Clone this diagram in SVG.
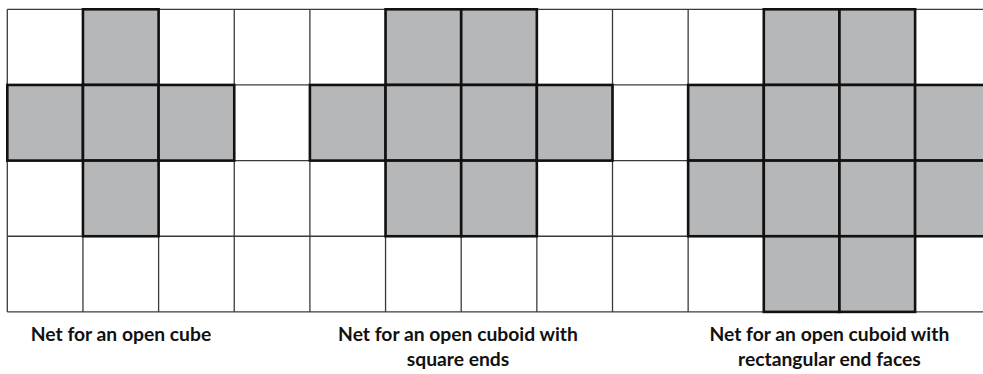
<svg xmlns="http://www.w3.org/2000/svg" width="983" height="374" viewBox="0 0 983 374">
<style>
.grid line{stroke:#3a3a3a;stroke-width:1.3}
.face{fill:#b6b7b9;stroke:#111;stroke-width:2.6}
.lbl{font-family:"Lato","Open Sans","Liberation Sans",sans-serif;font-weight:bold;font-size:19.3px;fill:#111;text-anchor:middle}
</style>
<rect width="983" height="374" fill="#fff"/>
<g id="grid" class="grid">
<line x1="7.3" y1="9.3" x2="983" y2="9.3"/>
<line x1="7.3" y1="84.95" x2="983" y2="84.95"/>
<line x1="7.3" y1="160.6" x2="983" y2="160.6"/>
<line x1="7.3" y1="236.25" x2="983" y2="236.25"/>
<line x1="7.3" y1="311.9" x2="983" y2="311.9"/>
<line x1="7.3" y1="9.3" x2="7.3" y2="311.9"/>
<line x1="82.95" y1="9.3" x2="82.95" y2="311.9"/>
<line x1="158.6" y1="9.3" x2="158.6" y2="311.9"/>
<line x1="234.25" y1="9.3" x2="234.25" y2="311.9"/>
<line x1="309.9" y1="9.3" x2="309.9" y2="311.9"/>
<line x1="385.55" y1="9.3" x2="385.55" y2="311.9"/>
<line x1="461.2" y1="9.3" x2="461.2" y2="311.9"/>
<line x1="536.85" y1="9.3" x2="536.85" y2="311.9"/>
<line x1="612.5" y1="9.3" x2="612.5" y2="311.9"/>
<line x1="688.15" y1="9.3" x2="688.15" y2="311.9"/>
<line x1="763.8" y1="9.3" x2="763.8" y2="311.9"/>
<line x1="839.45" y1="9.3" x2="839.45" y2="311.9"/>
<line x1="915.1" y1="9.3" x2="915.1" y2="311.9"/>
</g>
<g id="net-cube">
<rect class="face" x="82.95" y="9.3" width="75.65" height="75.65"/>
<rect class="face" x="7.3" y="84.95" width="75.65" height="75.65"/>
<rect class="face" x="82.95" y="84.95" width="75.65" height="75.65"/>
<rect class="face" x="158.6" y="84.95" width="75.65" height="75.65"/>
<rect class="face" x="82.95" y="160.6" width="75.65" height="75.65"/>
<text class="lbl" x="121" y="340.7">Net for an open cube</text>
</g>
<g id="net-cuboid-square">
<rect class="face" x="385.55" y="9.3" width="75.65" height="75.65"/>
<rect class="face" x="461.2" y="9.3" width="75.65" height="75.65"/>
<rect class="face" x="309.9" y="84.95" width="75.65" height="75.65"/>
<rect class="face" x="385.55" y="84.95" width="75.65" height="75.65"/>
<rect class="face" x="461.2" y="84.95" width="75.65" height="75.65"/>
<rect class="face" x="536.85" y="84.95" width="75.65" height="75.65"/>
<rect class="face" x="385.55" y="160.6" width="75.65" height="75.65"/>
<rect class="face" x="461.2" y="160.6" width="75.65" height="75.65"/>
<text class="lbl" x="458" y="340.7">Net for an open cuboid with</text>
<text class="lbl" x="458" y="365.5">square ends</text>
</g>
<g id="net-cuboid-rect">
<rect class="face" x="763.8" y="9.3" width="75.65" height="75.65"/>
<rect class="face" x="839.45" y="9.3" width="75.65" height="75.65"/>
<rect class="face" x="688.15" y="84.95" width="75.65" height="75.65"/>
<rect class="face" x="763.8" y="84.95" width="75.65" height="75.65"/>
<rect class="face" x="839.45" y="84.95" width="75.65" height="75.65"/>
<rect class="face" x="915.1" y="84.95" width="75.65" height="75.65"/>
<rect class="face" x="688.15" y="160.6" width="75.65" height="75.65"/>
<rect class="face" x="763.8" y="160.6" width="75.65" height="75.65"/>
<rect class="face" x="839.45" y="160.6" width="75.65" height="75.65"/>
<rect class="face" x="915.1" y="160.6" width="75.65" height="75.65"/>
<rect class="face" x="763.8" y="236.25" width="75.65" height="75.65"/>
<rect class="face" x="839.45" y="236.25" width="75.65" height="75.65"/>
<text class="lbl" x="829.4" y="340.7">Net for an open cuboid with</text>
<text class="lbl" x="829.4" y="365.5">rectangular end faces</text>
</g>
</svg>
